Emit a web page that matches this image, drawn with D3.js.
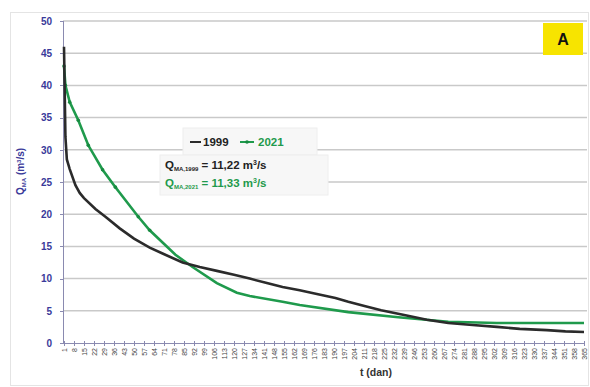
<!DOCTYPE html>
<html>
  <head>
    <meta charset="utf-8">
    <title>Q_MA 1999 / 2021</title>
    <script src="https://cdn.jsdelivr.net/npm/d3@7"></script>
    <style>
      body { margin: 0; background: #fff; }
      .axis text { font-family: 'Liberation Sans', Arial, sans-serif; }
      .y.axis text { fill: #3a3a9a; font-size: 10px; font-weight: bold; }
      .x.axis text { fill: #444; font-size: 7px; }
      .axis path, .axis line { fill: none; stroke: #8a8ab0; shape-rendering: crispEdges; }
      .grid line { stroke: #c9c9c9; stroke-width: 1.5px; }
      .lbl { font-family: 'Liberation Sans', Arial, sans-serif; font-weight: bold; }
    </style>
  </head>
  <body>
    <script>

      // duration curve key points (day -> m3/s)
      var days1999 = [1, 2, 3, 5, 9, 12, 15, 23, 30, 40, 50, 61, 70, 84, 96, 108, 120, 131,
                      143, 154, 166, 178, 191, 200, 212, 223, 240, 255, 270, 287, 304, 320,
                      339, 352, 365];
      var q1999 = [46, 32, 28.5, 27, 24.5, 23.3, 22.5, 20.8, 19.6, 17.8, 16.2, 14.8, 13.9,
                   12.5, 11.8, 11.2, 10.6, 10.0, 9.3, 8.7, 8.2, 7.6, 7.0, 6.4, 5.7, 5.1,
                   4.3, 3.6, 3.1, 2.8, 2.5, 2.2, 2.0, 1.8, 1.7];

      var days2021 = [1, 2, 5, 11, 18, 28, 37, 53, 61, 79, 91, 108, 122, 131, 154, 166,
                      200, 235, 270, 304, 365];
      var q2021 = [43, 40, 37.4, 34.6, 30.7, 26.9, 24.2, 19.6, 17.5, 13.7, 11.8, 9.3, 7.8,
                   7.3, 6.4, 5.9, 4.8, 4.0, 3.3, 3.1, 3.1];

      var yTicks = [0, 5, 10, 15, 20, 25, 30, 35, 40, 45, 50];
      var xTickLabels = d3.range(1, 366, 7);

      var outerWidth = 590;
      var outerHeight = 387;
      var margin = { left: 63, top: 21, right: 3, bottom: 44 };
      var innerWidth  = outerWidth  - margin.left - margin.right;
      var innerHeight = outerHeight - margin.top  - margin.bottom;

      var svg = d3.select("body").append("svg")
        .attr("width",  outerWidth)
        .attr("height", outerHeight);

      // faint outer frame
      svg.append("rect")
        .attr("x", 10.5).attr("y", 12.5)
        .attr("width", outerWidth - 12).attr("height", outerHeight - 14)
        .attr("fill", "none").attr("stroke", "#e4e4e4");

      var g = svg.append("g")
        .attr("transform", "translate(" + margin.left + "," + margin.top + ")");

      var xScale = d3.scaleLinear().domain([1, 365]).range([1, innerWidth - 3]);
      var yScale = d3.scaleLinear().domain([0, 50]).range([innerHeight, 0]);

      g.append("g").attr("class", "grid")
        .selectAll("line").data(yTicks.filter(function(d) { return d > 0; }))
        .enter().append("line")
        .attr("x1", 0).attr("x2", innerWidth)
        .attr("y1", function(d) { return yScale(d); })
        .attr("y2", function(d) { return yScale(d); });

      g.append("g").attr("class", "y axis")
        .call(d3.axisLeft(yScale).tickValues(yTicks).tickSize(3).tickPadding(8));

      var xAxisG = g.append("g").attr("class", "x axis")
        .attr("transform", "translate(0," + innerHeight + ")")
        .call(d3.axisBottom(xScale).tickValues(xTickLabels).tickSize(3).tickSizeOuter(0));
      xAxisG.selectAll("line").attr("y1", -2);
      // vertical labels, reading upwards, top end just under the axis
      xAxisG.selectAll("text")
        .attr("x", 0).attr("y", 0).attr("dy", "0.35em")
        .attr("text-anchor", "start")
        .attr("transform", function() {
          var w = this.getComputedTextLength();
          return "translate(0," + (5 + w) + ") rotate(-90)";
        });

      var line = d3.line()
        .x(function(d) { return xScale(d[0]); })
        .y(function(d) { return yScale(d[1]); });

      var s1999 = days1999.map(function(d, i) { return [d, q1999[i]]; });
      var s2021 = days2021.map(function(d, i) { return [d, q2021[i]]; });

      g.append("path").datum(s2021)
        .attr("d", line)
        .attr("fill", "none").attr("stroke", "#1f9a4c").attr("stroke-width", 2.6);
      g.selectAll(".dot21").data(s2021.filter(function(d) { return d[0] <= 61; }))
        .enter().append("circle")
        .attr("cx", function(d) { return xScale(d[0]); })
        .attr("cy", function(d) { return yScale(d[1]); })
        .attr("r", 1.8).attr("fill", "#178a40");

      g.append("path").datum(s1999)
        .attr("d", line)
        .attr("fill", "none").attr("stroke", "#2b2b2b").attr("stroke-width", 2.6);

      // legend boxes
      svg.append("rect").attr("x", 183).attr("y", 128).attr("width", 134).attr("height", 27)
        .attr("fill", "#f7f7f7").attr("stroke", "#eeeeee");
      svg.append("rect").attr("x", 160).attr("y", 155).attr("width", 168).attr("height", 40)
        .attr("fill", "#f7f7f7").attr("stroke", "#eeeeee");

      svg.append("line").attr("x1", 190).attr("x2", 201).attr("y1", 142).attr("y2", 142)
        .attr("stroke", "#2b2b2b").attr("stroke-width", 2);
      svg.append("text").attr("class", "lbl").attr("x", 203).attr("y", 146)
        .attr("font-size", 11.5).attr("fill", "#222").text("1999");
      svg.append("line").attr("x1", 240).attr("x2", 254).attr("y1", 142).attr("y2", 142)
        .attr("stroke", "#1f9a4c").attr("stroke-width", 2);
      svg.append("circle").attr("cx", 247).attr("cy", 142).attr("r", 1.8).attr("fill", "#178a40");
      svg.append("text").attr("class", "lbl").attr("x", 258).attr("y", 146)
        .attr("font-size", 11.5).attr("fill", "#1f9a4c").text("2021");

      function qLabel(y, sub, val, color) {
        var t = svg.append("text").attr("class", "lbl").attr("x", 165).attr("y", y)
          .attr("font-size", 11.5).attr("fill", color);
        t.append("tspan").text("Q");
        t.append("tspan").attr("font-size", 6).attr("dy", 2).text("MA," + sub);
        t.append("tspan").attr("dy", -2).text(" = " + val + " m");
        t.append("tspan").attr("font-size", 7).attr("dy", -4).text("3");
        t.append("tspan").attr("dy", 4).text("/s");
      }
      qLabel(169, "1999", "11,22", "#222");
      qLabel(187, "2021", "11,33", "#1f9a4c");

      // panel tag
      svg.append("rect").attr("x", 543).attr("y", 23).attr("width", 40).attr("height", 32)
        .attr("fill", "#f7e400");
      svg.append("text").attr("class", "lbl").attr("x", 563).attr("y", 45)
        .attr("text-anchor", "middle").attr("font-size", 16).attr("fill", "#111").text("A");

      // axis titles
      var yt = svg.append("text").attr("class", "lbl")
        .attr("transform", "translate(24,195) rotate(-90)")
        .attr("font-size", 10).attr("fill", "#3a3a9a");
      yt.append("tspan").text("Q");
      yt.append("tspan").attr("font-size", 6).attr("dy", 2).text("MA");
      yt.append("tspan").attr("dy", -2).text(" (m");
      yt.append("tspan").attr("font-size", 6).attr("dy", -3).text("3");
      yt.append("tspan").attr("dy", 3).text("/s)");

      svg.append("text").attr("class", "lbl")
        .attr("x", 376).attr("y", 376).attr("text-anchor", "middle")
        .attr("font-size", 10.5).attr("fill", "#333").text("t (dan)");

    </script>
  </body>
</html>
